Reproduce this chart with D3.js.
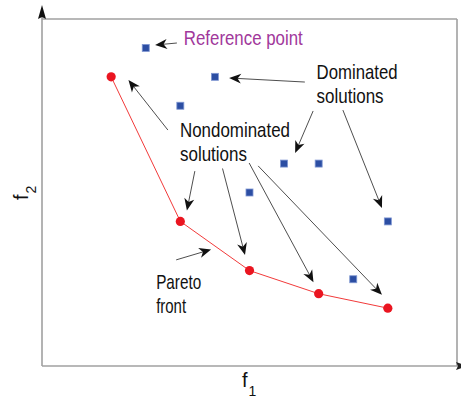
<!DOCTYPE html>
<html>
<head>
<meta charset="utf-8">
<script src="https://cdn.jsdelivr.net/npm/d3@7/dist/d3.min.js"></script>
<style>
  html, body { margin: 0; padding: 0; background: #fff; }
  svg { display: block; }
  .lbl { font-family: "Liberation Sans Narrow", "Arial Narrow", "Liberation Sans", Arial, sans-serif; }
</style>
</head>
<body>
<svg id="chart" width="461" height="400"></svg>
<script>
// Nondominated solutions forming the Pareto front (f1, f2)
const paretoF1 = [1, 3, 5, 7, 9];
const paretoF2 = [10, 5, 3.3, 2.5, 2];

// Dominated solutions (f1, f2)
const dominatedF1 = [4, 3, 6, 7, 5, 9, 8];
const dominatedF2 = [10, 9, 7, 7, 6, 5, 3];

// Reference point
const referenceF1 = [2];
const referenceF2 = [11];

// Axis names
const axisNames = ["f", "f"];
const axisSubs = ["1", "2"];

// Annotation texts (lines) and anchor, in data units
const annotations = [
  { lines: ["Reference point"], f1: 3.1, f2: 11.1, color: "#a1389b", widths: [119] },
  { lines: ["Dominated", "solutions"], f1: 6.94, f2: 9.94, color: "#111", widths: [81, 67] },
  { lines: ["Nondominated", "solutions"], f1: 2.99, f2: 7.92, color: "#111", widths: [110, 67] },
  { lines: ["Pareto", "front"], f1: 2.3, f2: 2.68, color: "#111", widths: [45, 30] }
];

// Annotation arrows: tail -> tip, in data units
const arrows = [
  { from: [2.90, 11.17], to: [2.27, 11.10] },
  { from: [6.60, 9.82], to: [4.41, 9.96] },
  { from: [6.84, 8.82], to: [6.32, 7.37] },
  { from: [7.70, 8.85], to: [8.83, 5.46] },
  { from: [2.64, 8.16], to: [1.50, 9.89] },
  { from: [3.42, 6.74], to: [3.19, 5.38] },
  { from: [4.22, 6.83], to: [4.87, 3.84] },
  { from: [4.99, 7.02], to: [6.85, 2.90] },
  { from: [5.25, 6.92], to: [8.83, 2.46] },
  { from: [2.88, 3.67], to: [3.89, 4.03] }
];

const svg = d3.select("#chart");
const plot = { left: 42, right: 457, top: 19, bottom: 366 };

const x = d3.scaleLinear().domain([-1, 11]).range([plot.left, plot.right]);
const y = d3.scaleLinear().domain([0, 12]).range([plot.bottom, plot.top]);

// Filled arrowhead with a notched back
function headPath(x0, y0, x1, y1, len, half, notch) {
  const dx = x1 - x0, dy = y1 - y0;
  const d = Math.hypot(dx, dy);
  const ux = dx / d, uy = dy / d;
  const nx = -uy, ny = ux;
  const bx = x1 - ux * len, by = y1 - uy * len;
  const mx = x1 - ux * (len - notch), my = y1 - uy * (len - notch);
  return `M${x1},${y1}L${bx + nx * half},${by + ny * half}L${mx},${my}L${bx - nx * half},${by - ny * half}Z`;
}

// Frame
const frame = svg.append("g").attr("stroke", "#a0a0a0").attr("stroke-width", 1.6).attr("fill", "none");
frame.append("line").attr("x1", plot.left).attr("x2", plot.right).attr("y1", plot.top).attr("y2", plot.top);
frame.append("line").attr("x1", plot.right).attr("x2", plot.right).attr("y1", plot.top).attr("y2", plot.bottom);
frame.append("line").attr("x1", plot.left).attr("x2", plot.right + 3).attr("y1", plot.bottom).attr("y2", plot.bottom);
frame.append("line").attr("x1", plot.left).attr("x2", plot.left).attr("y1", plot.bottom).attr("y2", 12);

// Axis arrowheads
svg.append("path")
  .attr("d", headPath(plot.left, 40, plot.left, 5, 14, 4, 2))
  .attr("fill", "#111");
svg.append("path")
  .attr("d", headPath(440, plot.bottom, 467, plot.bottom, 11, 4, 2))
  .attr("fill", "#222");

// Pareto front line
const line = d3.line().x(d => x(d[0])).y(d => y(d[1]));
const front = paretoF1.map((v, i) => [v, paretoF2[i]]);
svg.append("path")
  .datum(front)
  .attr("d", line)
  .attr("fill", "none")
  .attr("stroke", "#f23a3a")
  .attr("stroke-width", 1);

// Dominated solutions and reference point (squares)
const sq = 7;
const squares = dominatedF1.map((v, i) => [v, dominatedF2[i]])
  .concat(referenceF1.map((v, i) => [v, referenceF2[i]]));
svg.append("g").selectAll("rect")
  .data(squares)
  .join("rect")
  .attr("x", d => x(d[0]) - sq / 2)
  .attr("y", d => y(d[1]) - sq / 2)
  .attr("width", sq)
  .attr("height", sq)
  .attr("fill", "#2c4ea3")
  .attr("stroke", "#7f97d2")
  .attr("stroke-width", 0.8);

// Nondominated solutions (circles)
svg.append("g").selectAll("circle")
  .data(front)
  .join("circle")
  .attr("cx", d => x(d[0]))
  .attr("cy", d => y(d[1]))
  .attr("r", 4.6)
  .attr("fill", "#ea1520");

// Annotation arrows
const ag = svg.append("g");
arrows.forEach(a => {
  const x0 = x(a.from[0]), y0 = y(a.from[1]);
  const x1 = x(a.to[0]), y1 = y(a.to[1]);
  const d = Math.hypot(x1 - x0, y1 - y0);
  const ex = x1 - (x1 - x0) / d * 8, ey = y1 - (y1 - y0) / d * 8;
  ag.append("line")
    .attr("x1", x0).attr("y1", y0).attr("x2", ex).attr("y2", ey)
    .attr("stroke", "#3a3a3a").attr("stroke-width", 0.9);
  ag.append("path")
    .attr("d", headPath(x0, y0, x1, y1, 12, 5, 3.5))
    .attr("fill", "#111");
});

// Annotation texts
annotations.forEach(a => {
  const t = svg.append("text")
    .attr("class", "lbl")
    .attr("x", x(a.f1))
    .attr("y", y(a.f2))
    .attr("font-size", 21)
    .attr("fill", a.color);
  a.lines.forEach((s, i) => {
    t.append("tspan")
      .attr("x", x(a.f1))
      .attr("dy", i === 0 ? 0 : 24.5)
      .attr("textLength", a.widths[i])
      .attr("lengthAdjust", "spacingAndGlyphs")
      .text(s);
  });
});

// Axis titles
const xt = svg.append("text").attr("class", "lbl")
  .attr("x", 242).attr("y", 387).attr("font-size", 20).attr("fill", "#111");
xt.append("tspan").text(axisNames[0]);
xt.append("tspan").attr("font-size", 14).attr("dy", 9).attr("dx", 1).text(axisSubs[0]);

const yt = svg.append("text").attr("class", "lbl")
  .attr("transform", "translate(27.5,200) rotate(-90)")
  .attr("font-size", 20).attr("fill", "#111");
yt.append("tspan").text(axisNames[1]);
yt.append("tspan").attr("font-size", 14).attr("dy", 8).attr("dx", 1).text(axisSubs[1]);
</script>
</body>
</html>
